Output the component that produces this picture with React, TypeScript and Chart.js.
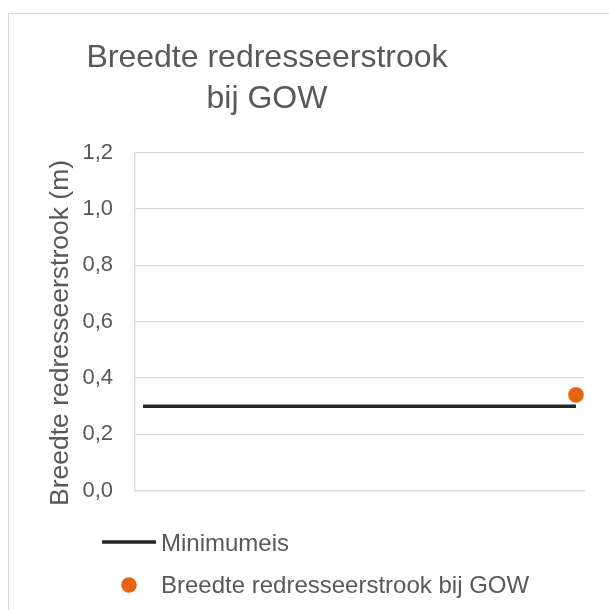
import React, { useEffect, useRef } from 'react';
import { Chart, registerables } from 'chart.js';

Chart.register(...registerables);

// ---- data ----
const categories = [
  '1', '2', '3', '4', '5', '6', '7', '8', '9', '10', '11', '12', '13', '14',
  '15', '16', '17', '18', '19', '20', '21', '22', '23', '24', '25', '26', '27', '28',
];
const minimumeis = [
  0.3, 0.3, 0.3, 0.3, 0.3, 0.3, 0.3, 0.3, 0.3, 0.3, 0.3, 0.3, 0.3, 0.3,
  0.3, 0.3, 0.3, 0.3, 0.3, 0.3, 0.3, 0.3, 0.3, 0.3, 0.3, 0.3, 0.3, 0.3,
];
const breedteGOW = [
  null, null, null, null, null, null, null, null, null, null, null, null, null, null,
  null, null, null, null, null, null, null, null, null, null, null, null, null, 0.34,
];
const seriesNames = ['Minimumeis', 'Breedte redresseerstrook bij GOW'];
const titleLines = ['Breedte redresseerstrook', 'bij GOW'];
const yAxisTitle = 'Breedte redresseerstrook (m)';
const yMin = 0;
const yMax = 1.2;
const yStep = 0.2;

// ---- styles ----
const FONT = '"Liberation Sans", Arial, sans-serif';
const TEXT = '#595959';
const GRID = '#d9d9d9';
const LINE = '#262626';
const ORANGE = '#E66514';

const excelText = {
  id: 'excelText',
  afterDraw(chart: any) {
    const ctx = chart.ctx as CanvasRenderingContext2D;
    ctx.save();
    ctx.fillStyle = TEXT;
    ctx.textBaseline = 'alphabetic';

    // title
    ctx.font = `32px ${FONT}`;
    ctx.textAlign = 'center';
    titleLines.forEach((l, i) => ctx.fillText(l, 258, 52.7 + i * 41.3));

    // y axis title
    ctx.save();
    ctx.translate(59.3, 319);
    ctx.rotate(-Math.PI / 2);
    ctx.font = `26.5px ${FONT}`;
    ctx.textAlign = 'center';
    ctx.fillText(yAxisTitle, 0, 0);
    ctx.restore();

    // legend
    const ds = chart.data.datasets;
    ctx.font = `24px ${FONT}`;
    ctx.textAlign = 'left';
    // line entry
    ctx.strokeStyle = ds[0].borderColor;
    ctx.lineWidth = ds[0].borderWidth;
    ctx.beginPath();
    ctx.moveTo(93, 528);
    ctx.lineTo(147, 528);
    ctx.stroke();
    ctx.fillText(ds[0].label, 152, 536.7);
    // marker entry
    ctx.fillStyle = ds[1].pointBackgroundColor;
    ctx.beginPath();
    ctx.arc(120, 571, ds[1].pointRadius, 0, Math.PI * 2);
    ctx.fill();
    ctx.fillStyle = TEXT;
    ctx.fillText(ds[1].label, 152, 579.3);
    ctx.restore();
  },
};

export default function App() {
  const ref = useRef<HTMLCanvasElement>(null);

  useEffect(() => {
    if (!ref.current) return;
    const chart = new Chart(ref.current, {
      type: 'line',
      data: {
        labels: categories,
        datasets: [
          {
            label: seriesNames[0],
            data: minimumeis,
            borderColor: LINE,
            backgroundColor: LINE,
            borderWidth: 3.5,
            pointRadius: 0,
            pointHoverRadius: 0,
            fill: false,
            order: 2,
          },
          {
            label: seriesNames[1],
            data: breedteGOW as any,
            showLine: false,
            borderColor: ORANGE,
            backgroundColor: ORANGE,
            pointBackgroundColor: ORANGE,
            pointBorderColor: ORANGE,
            pointBorderWidth: 0,
            pointRadius: 7.8,
            order: 1,
          },
        ],
      },
      options: {
        responsive: false,
        animation: false,
        layout: { padding: { left: 0, top: 138.5, right: 25, bottom: 119.3 } },
        plugins: {
          legend: { display: false },
          title: { display: false },
          tooltip: { enabled: false },
        },
        scales: {
          x: {
            type: 'category',
            offset: true,
            ticks: { display: false },
            grid: { display: false, drawTicks: false },
            border: { display: true, color: GRID, width: 1.3 },
            afterFit: (s: any) => { s.height = 0; },
          },
          y: {
            min: yMin,
            max: yMax,
            ticks: {
              stepSize: yStep,
              padding: 22,
              color: TEXT,
              font: { family: FONT, size: 22 },
              callback: (v: any) => Number(v).toFixed(1).replace('.', ','),
            },
            grid: { color: GRID, lineWidth: 1.3, drawTicks: false },
            border: { display: true, color: GRID, width: 1.3 },
            afterFit: (s: any) => { s.width = 126; },
          },
        },
      },
      plugins: [excelText],
    });
    return () => chart.destroy();
  }, []);

  return (
    <div
      style={{
        position: 'fixed',
        left: 8,
        top: 13,
        width: 601,
        height: 597,
        boxSizing: 'border-box',
        borderTop: '1px solid #d9d9d9',
        borderLeft: '1px solid #d9d9d9',
        overflow: 'hidden',
        background: '#fff',
      }}
    >
      <canvas ref={ref} width={600} height={596} style={{ display: 'block', width: 600, height: 596 }} />
    </div>
  );
}
